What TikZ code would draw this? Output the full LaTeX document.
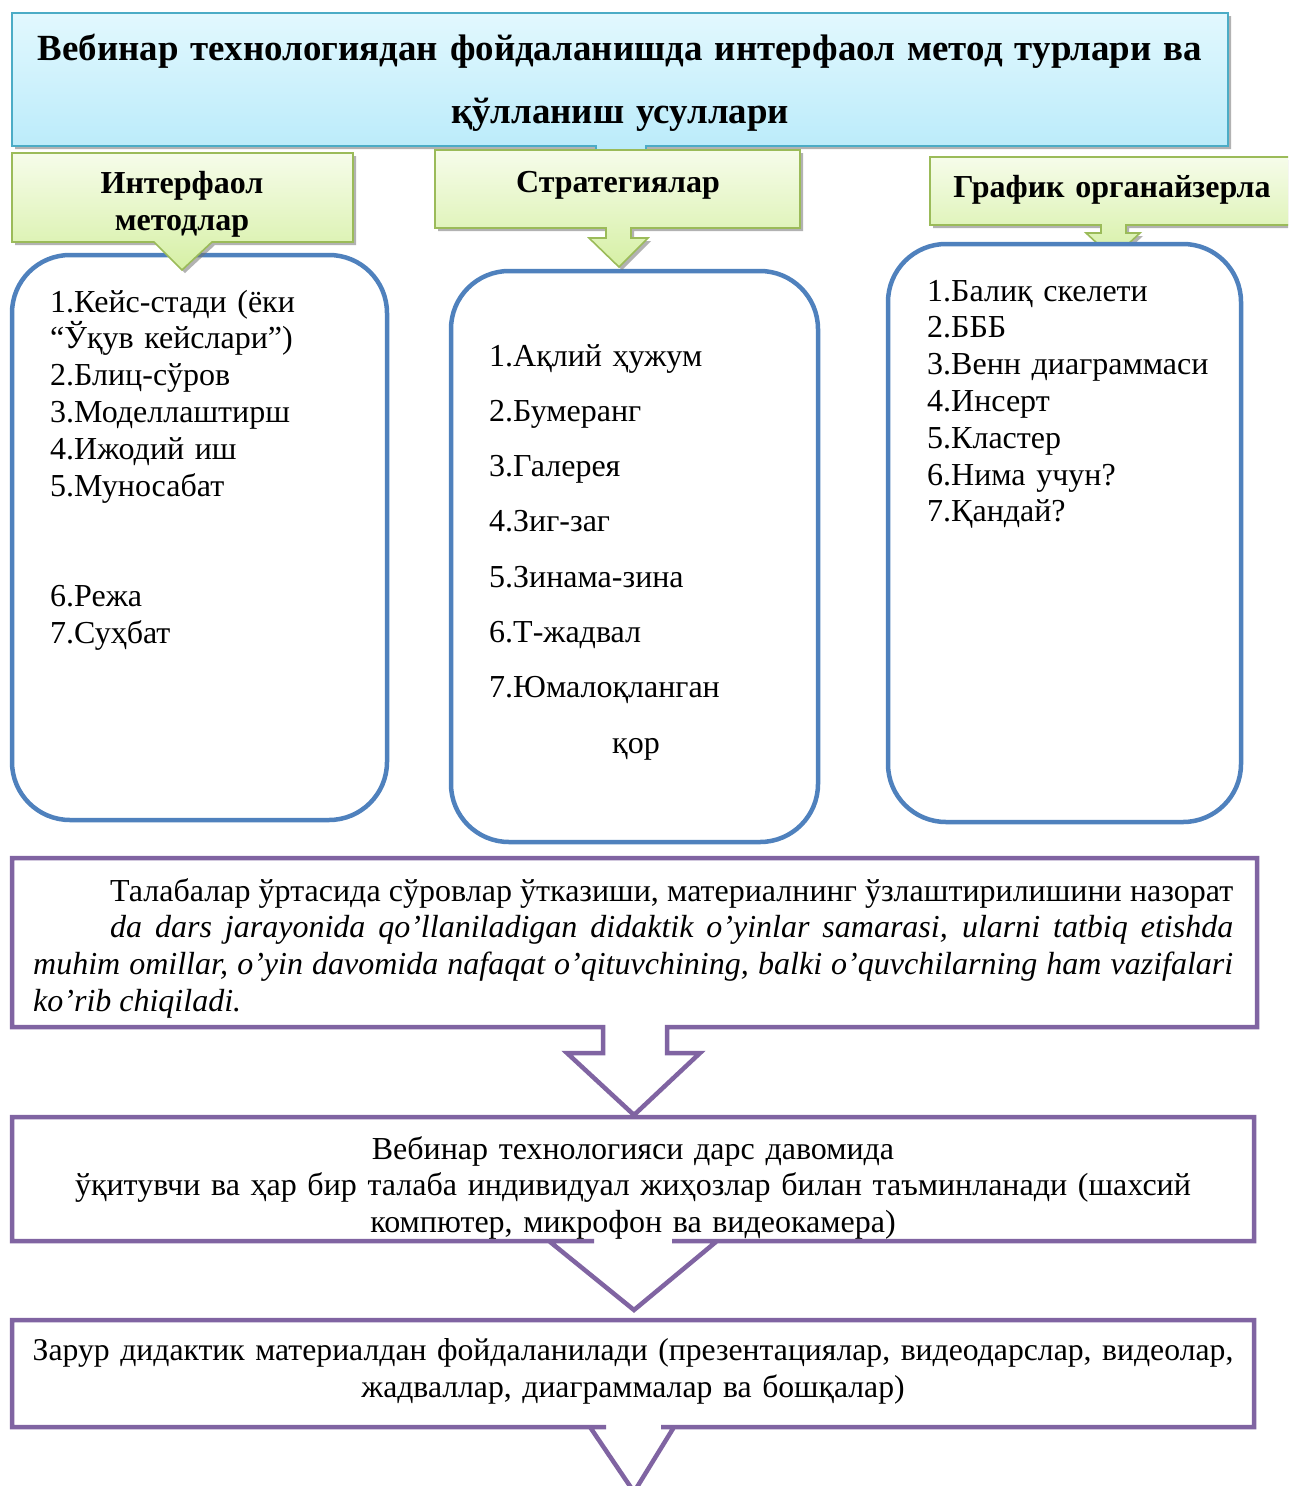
\documentclass[tikz,border=0pt]{standalone}
\usepackage{fontspec}
\setmainfont{Liberation Serif}
\usetikzlibrary{shadows}
\definecolor{titlefillA}{RGB}{226,248,254}
\definecolor{titlefillB}{RGB}{186,235,250}
\definecolor{titleline}{RGB}{75,172,198}
\definecolor{greenA}{RGB}{246,252,234}
\definecolor{greenB}{RGB}{214,240,165}
\definecolor{greenline}{RGB}{155,187,89}
\definecolor{blueline}{RGB}{79,129,189}
\definecolor{purpleline}{RGB}{128,100,162}
\tikzset{
  softshadow/.style={drop shadow={shadow xshift=3pt, shadow yshift=-3pt, fill=black!55, opacity=0.55}},
  titlebox/.style={draw=titleline, line width=1.6pt, top color=titlefillA, bottom color=titlefillB, softshadow},
  greenbox/.style={draw=greenline, line width=1.6pt, top color=greenA, bottom color=greenB, softshadow},
  listbox/.style={draw=blueline, line width=4.5pt, fill=white, rounded corners=58pt},
  flowbox/.style={draw=purpleline, line width=4.5pt, fill=white, line join=miter},
  bodytext/.style={font=\fontsize{32}{36.8}\selectfont, inner sep=0pt},
  widetext/.style={font=\fontsize{32}{55.3}\selectfont, inner sep=0pt},
  headtext/.style={font=\bfseries\fontsize{32}{37}\selectfont, inner sep=0pt, align=center},
  titletext/.style={font=\bfseries\fontsize{36.9}{63.5}\selectfont, inner sep=0pt, align=center},
}
\begin{document}
\begin{tikzpicture}[x=1pt,y=-1pt]
\clip (0,0) rectangle (1288,1486);
\fill[white] (0,0) rectangle (1288,1486);

% title
\path[titlebox] (12,13) -- (1228,13) -- (1228,146) -- (646,146) -- (646,152) -- (596,152) -- (596,146) -- (12,146) -- cycle;
\node[titletext, text width=1216pt, anchor=base] (title) at (620,60)
  {Вебинар технологиядан фойдаланишда интерфаол метод турлари ва\\қўлланиш усуллари};

% list boxes A and B
\path[listbox] (12,255) rectangle (387,820);
\path[listbox] (451,271) rectangle (818,842);

% green callouts 1 and 2
\path[greenbox] (12,153) -- (353,153) -- (353,242) -- (212,242) -- (182,270) -- (154,242) -- (12,242) -- cycle;
\node[headtext, text width=330pt, anchor=base] (h1) at (182,193) {Интерфаол\\методлар};
\path[greenbox] (435,150) -- (800,150) -- (800,228) -- (631,228) -- (631,238) -- (648,238) -- (619,267) -- (589,238) -- (606,238) -- (606,228) -- (435,228) -- cycle;
\node[headtext, text width=350pt, anchor=base] (h2) at (618,192) {Стратегиялар};

% green callout 3 and box C above it
\path[greenbox] (930,157) -- (1294,157) -- (1294,225) -- (1126,225) -- (1126,233) -- (1140,233) -- (1113,258) -- (1086,233) -- (1101,233) -- (1101,225) -- (930,225) -- cycle;
\node[headtext, text width=360pt, anchor=base] (h3) at (1112,197) {График органайзерла};
\path[listbox] (888,244) rectangle (1241,822);

% lists
\node[bodytext, text width=330pt, align=left, anchor=base west] (listA) at (50,312)
  {1.Кейс-стади (ёки\\“Ўқув кейслари”)\\2.Блиц-сўров\\3.Моделлаштирш\\4.Ижодий иш\\5.Муносабат\\[73.6pt]6.Режа\\7.Суҳбат};
\node[widetext, text width=320pt, align=left, anchor=base west] (listB) at (489,366)
  {1.Ақлий ҳужум\\2.Бумеранг\\3.Галерея\\4.Зиг-заг\\5.Зинама-зина\\6.Т-жадвал\\7.Юмалоқланган\\\hspace*{123pt}қор};
\node[bodytext, text width=310pt, align=left, anchor=base west] (listC) at (927,301)
  {1.Балиқ скелети\\2.БББ\\3.Венн диаграммаси\\4.Инсерт\\5.Кластер\\6.Нима учун?\\7.Қандай?};

% flow boxes
\path[flowbox] (12,858) -- (1257,858) -- (1257,1027) -- (667,1027) -- (667,1053) -- (700,1053) -- (634,1115) -- (567,1053) -- (603,1053) -- (603,1027) -- (12,1027) -- cycle;
\node[bodytext, text width=1200pt, align=justify, anchor=base west] (p1text) at (33,901)
  {\hspace*{77pt}Талабалар ўртасида сўровлар ўтказиши, материалнинг ўзлаштирилишини назорат\linebreak
   \hspace*{77pt}\itshape da dars jarayonida qo’llaniladigan didaktik o’yinlar samarasi, ularni tatbiq etishda\linebreak
   muhim omillar, o’yin davomida nafaqat o’qituvchining, balki o’quvchilarning ham vazifalari\linebreak
   ko’rib chiqiladi.};

\path[flowbox] (12,1117) -- (1254,1117) -- (1254,1241) -- (672,1241) -- (717,1241) -- (634,1310) -- (549,1241) -- (594,1241) -- (12,1241) -- cycle;
\node[bodytext, text width=1230pt, align=center, anchor=base] (p2text) at (633,1159)
  {Вебинар технологияси дарс давомида\\ўқитувчи ва ҳар бир талаба индивидуал жиҳозлар билан таъминланади (шахсий\\компютер, микрофон ва видеокамера)};

\path[flowbox] (12,1320) -- (1254,1320) -- (1254,1427) -- (661,1427) -- (674,1427) -- (634,1492) -- (590,1427) -- (606,1427) -- (12,1427) -- cycle;
\node[bodytext, font=\fontsize{31.7}{37.5}\selectfont, text width=1230pt, align=center, anchor=base] (p3text) at (633,1360)
  {Зарур дидактик материалдан фойдаланилади (презентациялар, видеодарслар, видеолар,\\жадваллар, диаграммалар ва бошқалар)};
\end{tikzpicture}
\end{document}
